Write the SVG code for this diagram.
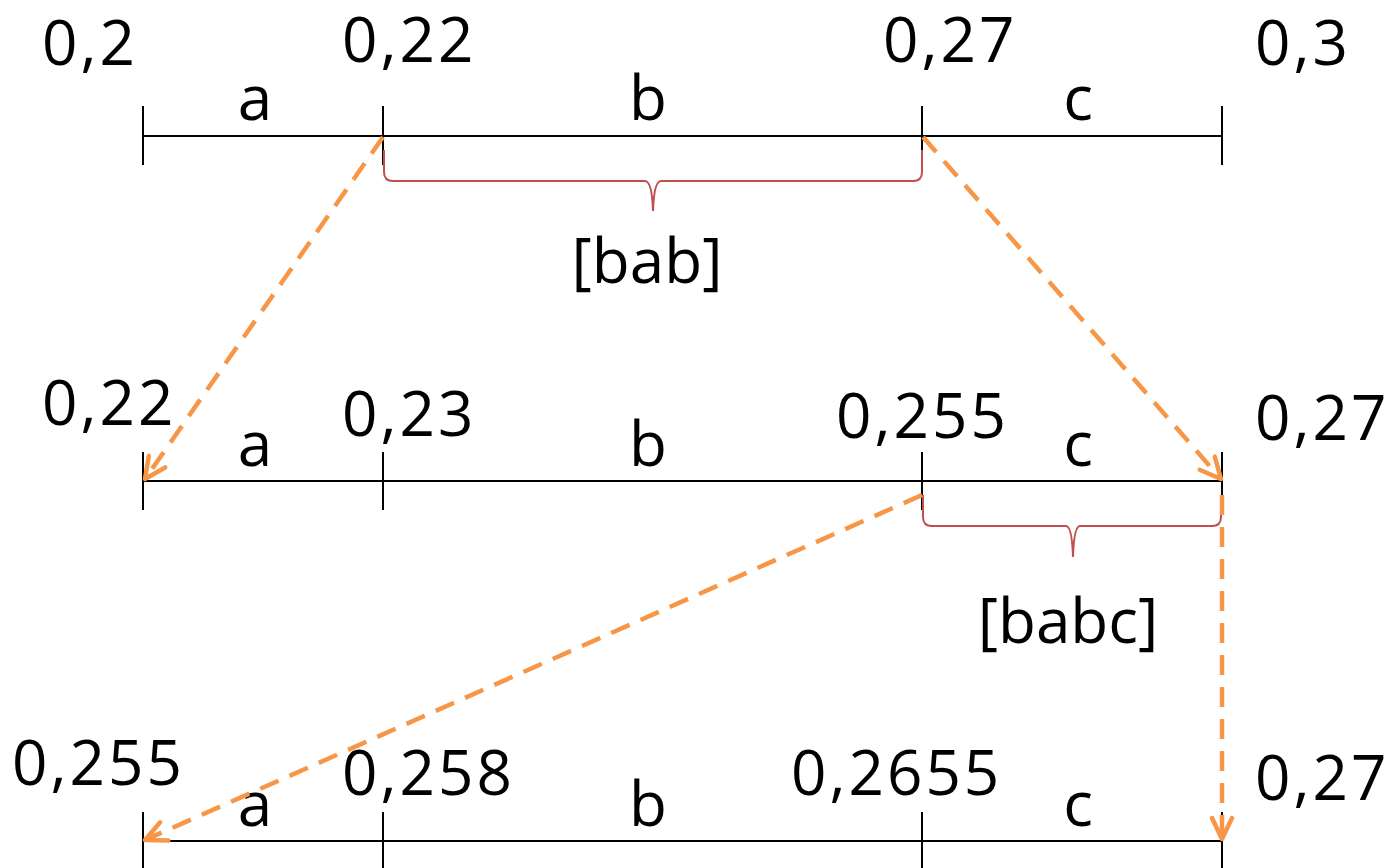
<svg xmlns="http://www.w3.org/2000/svg" width="1392" height="868" viewBox="0 0 1392 868">
<style>
.num{font-family:"Open Sans","Liberation Sans",sans-serif;font-size:62px;letter-spacing:3px;fill:#000}
.lbl{font-family:"Open Sans","Liberation Sans",sans-serif;font-size:62px;fill:#000;text-anchor:middle}
.axis{stroke:#000;stroke-width:2;fill:none}
.brace{stroke:#C0504D;stroke-width:2;fill:none}
.arrow{stroke:#F79646;stroke-width:4.5;stroke-dasharray:20 12;fill:none}
</style>
<defs>
<marker id="ah" markerUnits="userSpaceOnUse" markerWidth="32" markerHeight="32" viewBox="-26 -16 32 32" refX="0" refY="0" orient="auto">
<path d="M-21,-10 L0,0 L-21,10" fill="none" stroke="#F79646" stroke-width="4.5" stroke-dasharray="none" stroke-linecap="round" stroke-linejoin="round"/>
</marker>
</defs>
<rect width="1392" height="868" fill="#fff"/>
<g id="row1">
<path class="axis" d="M143,136 H1222 M143,106 V165 M383,106 V165 M922,106 V165 M1222,106 V165"/>
<text class="num" x="42" y="65">0,2</text>
<text class="num" x="342" y="62">0,22</text>
<text class="num" x="883" y="62">0,27</text>
<text class="num" x="1255" y="65">0,3</text>
<text class="lbl" x="255" y="120">a</text>
<text class="lbl" x="648" y="120">b</text>
<text class="lbl" x="1078" y="120">c</text>
</g>
<g id="brace1">
<path class="brace" d="M384,150 V172 Q384,181 393,181 H645 Q652,181 653,211 Q654,181 661,181 H913 Q922,181 922,172 V150"/>
<text class="lbl" x="647" y="283">[bab]</text>
</g>
<g id="row2">
<path class="axis" d="M143,481 H1222 M143,452 V510 M383,452 V510 M922,452 V510 M1222,452 V510"/>
<text class="num" x="42" y="425">0,22</text>
<text class="num" x="342" y="436">0,23</text>
<text class="num" x="836" y="438">0,255</text>
<text class="num" x="1255" y="440">0,27</text>
<text class="lbl" x="255" y="466">a</text>
<text class="lbl" x="648" y="466">b</text>
<text class="lbl" x="1078" y="466">c</text>
</g>
<g id="brace2">
<path class="brace" d="M923,495 V517 Q923,526 932,526 H1066 Q1072,526 1073,557 Q1074,526 1080,526 H1212 Q1221,526 1221,517 V495"/>
<text class="lbl" x="1068" y="643">[babc]</text>
</g>
<g id="row3">
<path class="axis" d="M143,841 H1222 M143,812 V868 M383,812 V868 M922,812 V868 M1222,812 V868"/>
<text class="num" x="12" y="785">0,255</text>
<text class="num" x="342" y="795">0,258</text>
<text class="num" x="791" y="795">0,2655</text>
<text class="num" x="1255" y="800">0,27</text>
<text class="lbl" x="255" y="826">a</text>
<text class="lbl" x="648" y="826">b</text>
<text class="lbl" x="1078" y="826">c</text>
</g>
<g id="connectors">
<path class="arrow" d="M383,137 L145,479" marker-end="url(#ah)"/>
<path class="arrow" d="M923,137 L1221,479" marker-end="url(#ah)"/>
<path class="arrow" d="M922,495 L145,840" marker-end="url(#ah)"/>
<path class="arrow" d="M1222,495 L1222,839" marker-end="url(#ah)"/>
</g>
</svg>
